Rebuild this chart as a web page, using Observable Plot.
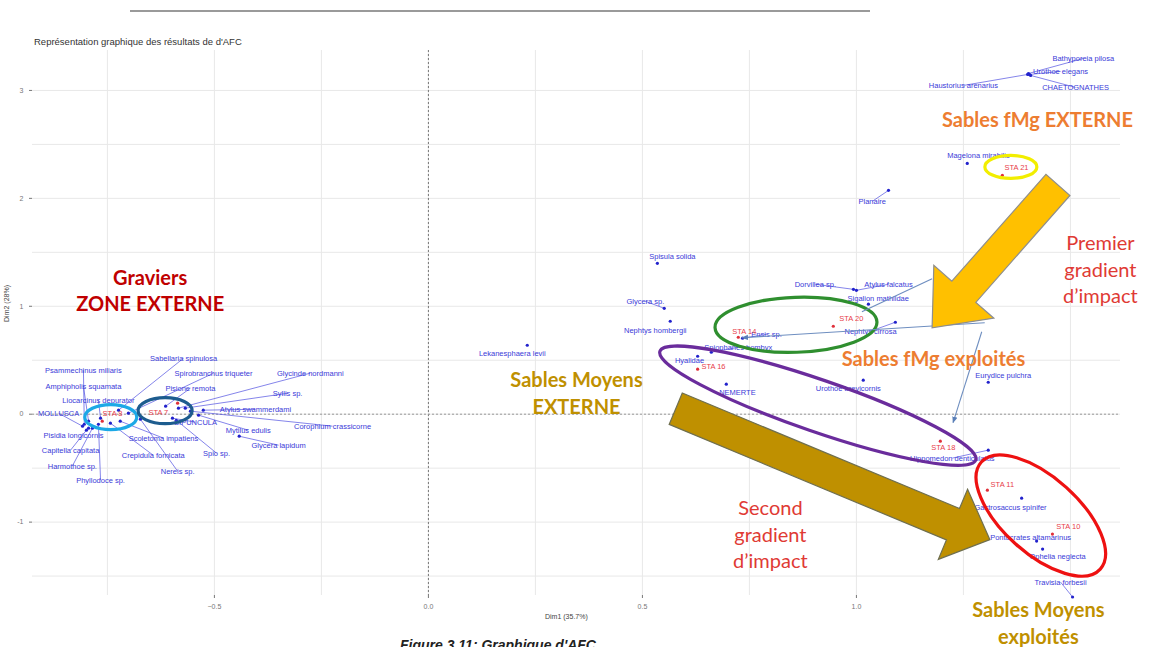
<!DOCTYPE html>
<html><head><meta charset="utf-8">
<script src="https://cdn.jsdelivr.net/npm/d3@7"></script>
<script src="https://cdn.jsdelivr.net/npm/@observablehq/plot@0.6"></script>
<style>
body{margin:0;background:#fff;}
#wrap{position:relative;width:1149px;height:647px;overflow:hidden;font-family:"Liberation Sans",Arial,sans-serif;}
#topline{position:absolute;left:130px;top:10px;width:740px;height:0;border-top:2px solid #9a9a9a;}
#title{position:absolute;left:34px;top:36px;font-size:9.5px;color:#333;white-space:nowrap;}
#caption{position:absolute;left:400px;top:637px;font-size:14px;font-weight:bold;font-style:italic;color:#222;white-space:nowrap;}
#xlab{position:absolute;left:545px;top:613px;font-size:7px;color:#444;}
#ylab{position:absolute;left:-12px;top:300px;font-size:7px;color:#444;transform:rotate(-90deg);}
#chart svg{position:absolute;left:0;top:0;}
</style></head>
<body><div id="wrap"><div id="chart"></div>
<div id="topline"></div>
<div id="title">Représentation graphique des résultats de d'AFC</div>
<div id="xlab">Dim1 (35.7%)</div>
<div id="ylab">Dim2 (28%)</div>
<div id="caption">Figure 3.11: Graphique d'AFC</div>
</div>
<script>
// ---- species (column points) ----
const speciesNames = ["Psammechinus miliaris","Amphipholis squamata","Liocarcinus depurator","MOLLUSCA","Pisidia longicornis","Capitella capitata","Harmothoe sp.","Phyllodoce sp.","Sabellaria spinulosa","Spirobranchus triqueter","Glycinde nordmanni","Pisione remota","Syllis sp.","Atylus swammerdami","SIPUNCULA","Corophium crassicorne","Mytilus edulis","Glycera lapidum","Scoletoma impatiens","Spio sp.","Crepidula fornicata","Nereis sp.",
"Bathyporeia pilosa","Urothoe elegans","Haustorius arenarius","CHAETOGNATHES","Magelona mirabilis","Planaire","Spisula solida","Glycera sp.","Nephtys hombergii","Lekanesphaera levii","Dorvillea sp.","Atylus falcatus","Sigalion mathildae","Nephtys cirrosa","Ensis sp.","Spiophanes bombyx","Hyalidae","NEMERTE","Urothoe brevicornis","Eurydice pulchra","Hippomedon denticulatus","Gastrosaccus spinifer","Pontocrates altamarinus","Ophelia neglecta","Travisia forbesii"];
const speciesX = [-0.804,-0.794,-0.766,-0.808,-0.794,-0.799,-0.785,-0.771,-0.724,-0.701,-0.584,-0.614,-0.568,-0.526,-0.598,-0.556,-0.537,-0.442,-0.720,-0.589,-0.743,-0.673,
1.402,1.404,1.400,1.407,1.259,1.075,0.535,0.551,0.565,0.231,0.993,1.000,1.028,1.091,0.734,0.661,0.629,0.696,1.016,1.308,1.308,1.386,1.421,1.435,1.505];
const speciesY = [-0.093,-0.065,-0.037,-0.111,-0.130,-0.148,-0.130,-0.093,0.037,0.009,0.056,0.074,0.056,0.037,-0.037,0.028,-0.009,-0.204,-0.065,-0.056,-0.083,-0.046,
3.157,3.148,3.148,3.139,2.324,2.074,1.398,0.981,0.861,0.639,1.157,1.148,1.019,0.852,0.704,0.574,0.537,0.278,0.315,0.296,-0.333,-0.778,-1.176,-1.250,-1.694];
const speciesLabelX = [-0.806,-0.806,-0.771,-0.864,-0.829,-0.836,-0.832,-0.766,-0.572,-0.502,-0.276,-0.556,-0.329,-0.404,-0.544,-0.224,-0.421,-0.350,-0.619,-0.495,-0.643,-0.586,
1.530,1.477,1.250,1.512,1.285,1.037,0.570,0.507,0.530,0.196,0.904,1.075,1.051,1.033,0.790,0.724,0.610,0.722,0.981,1.343,1.224,1.360,1.407,1.470,1.477];
const speciesLabelY = [0.407,0.259,0.130,0.009,-0.194,-0.333,-0.481,-0.611,0.519,0.380,0.380,0.241,0.194,0.046,-0.074,-0.111,-0.148,-0.287,-0.222,-0.361,-0.380,-0.528,
3.296,3.176,3.046,3.028,2.398,1.972,1.463,1.046,0.778,0.565,1.204,1.204,1.074,0.769,0.740,0.620,0.500,0.204,0.241,0.361,-0.407,-0.861,-1.139,-1.324,-1.556];

// ---- stations (row points) ----
const stationNames = ["STA 21","STA 20","STA 14","STA 16","STA 18","STA 11","STA 10","STA 8","STA 7"];
const stationX = [1.341,0.946,0.724,0.629,1.196,1.306,1.458,-0.762,-0.586];
const stationY = [2.213,0.815,0.713,0.417,-0.250,-0.704,-1.111,-0.065,0.102];
const stationLabelX = [1.374,0.988,0.738,0.666,1.203,1.341,1.495,-0.738,-0.631];
const stationLabelY = [2.287,0.889,0.765,0.444,-0.306,-0.648,-1.046,0.009,0.019];

// ---- axes ----
const xTicks = [-0.5, 0, 0.5, 1];
const yTicks = [-1, 0, 1, 2, 3];
const xGrid = [-0.75,-0.5,-0.25,0,0.25,0.5,0.75,1,1.25,1.5];
const yGrid = [-1.5,-1,-0.5,0,0.5,1,1.5,2,2.5,3];

// ---- annotation overlays ----
const ellipseX = [-0.741,-0.614,1.362,0.860,0.911,1.432];
const ellipseY = [-0.032,0.028,2.287,0.824,0.074,-0.944];
const ellipseRx = [26,27,26,81,167,80];
const ellipseRy = [12.5,13,11.5,27.5,26,38];
const ellipseAngle = [0,0,0,-2,19,42];
const ellipseColor = ["#1ca9e6","#1d5c8e","#f2ee00","#2f8f2f","#6a2c9c","#ee1111"];

const arrowX1 = [1.472, 0.579];
const arrowY1 = [2.120, 0.046];
const arrowX2 = [1.178, 1.313];
const arrowY2 = [0.796, -1.167];
const arrowFill = ["#ffc000","#bf9000"];
const arrowStroke = ["#8e8e8e","#6f6f4f"];

const lineX1 = [1.178, 1.301, 1.294];
const lineY1 = [1.250, 0.843, 0.759];
const lineX2 = [1.014, 0.734, 1.227];
const lineY2 = [0.944, 0.704, -0.083];
const lineHead = [false, true, true];

const annText = ["Graviers\nZONE EXTERNE","Sables fMg EXTERNE","Premier\ngradient\nd’impact","Sables fMg exploités","Sables Moyens\nEXTERNE","Second\ngradient\nd’impact","Sables Moyens\nexploités"];
const annX = [-0.650,1.423,1.570,1.180,0.346,0.799,1.425];
const annY = [1.157,2.741,1.352,0.528,0.204,-1.102,-1.926];
const annColor = ["#c00000","#ed7d31","#e03a34","#ed7d31","#bf9000","#e03a34","#bf9000"];
const annBold = [true,true,false,true,true,false,true];

const species = speciesNames.map((name,i)=>({name,x:speciesX[i],y:speciesY[i],lx:speciesLabelX[i],ly:speciesLabelY[i]}));
const stations = stationNames.map((name,i)=>({name,x:stationX[i],y:stationY[i],lx:stationLabelX[i],ly:stationLabelY[i]}));
const far = d => Math.hypot((d.lx-d.x)*428,(d.ly-d.y)*108) > 18;

const annMarks = annText.map((t,i)=>Plot.text([{t,x:annX[i],y:annY[i]}],{
  x:"x",y:"y",text:"t",fill:annColor[i],fontSize:20,fontWeight:annBold[i]?"bold":"normal",
  lineHeight:1.32,fontFamily:"Lato, 'Open Sans', sans-serif"}));

const plot = Plot.plot({
  width:1149, height:647, marginLeft:32, marginRight:29, marginTop:50, marginBottom:52,
  x:{domain:[-0.925,1.617]}, y:{domain:[-1.68,3.37]},
  style:{fontFamily:"'Liberation Sans', Arial, sans-serif", background:"transparent", overflow:"visible"},
  marks:[
    Plot.gridX(xGrid,{stroke:"#e8e8e8",strokeOpacity:1}),
    Plot.gridY(yGrid,{stroke:"#e8e8e8",strokeOpacity:1}),
    Plot.ruleX([0],{stroke:"#777",strokeDasharray:"2,2"}),
    Plot.ruleY([0],{stroke:"#999",strokeDasharray:"2,2"}),
    Plot.axisX(xTicks,{tickFormat:d3.format(".1f"),fontSize:7,color:"#777",tickSize:3,label:null}),
    Plot.axisY(yTicks,{tickFormat:d=>String(d),fontSize:7,color:"#777",tickSize:3,label:null}),
    Plot.link(species.filter(far),{x1:"x",y1:"y",x2:"lx",y2:"ly",stroke:"#4a4ae0",strokeWidth:0.8,strokeOpacity:0.85}),
    Plot.dot(species,{x:"x",y:"y",r:1.6,fill:"#2222cc"}),
    Plot.dot(stations,{x:"x",y:"y",r:1.6,fill:"#e0303a"}),
    Plot.text(species,{x:"lx",y:"ly",text:"name",fill:"#3a3ad8",fontSize:7.5}),
    Plot.text(stations,{x:"lx",y:"ly",text:"name",fill:"#e8404a",fontSize:7.5}),
    ...annMarks
  ]
});
document.getElementById("chart").appendChild(plot);

// overlays drawn through the plot's scales
const sx = plot.scale("x"), sy = plot.scale("y");
const svg = d3.select(plot);
const firstAnn = plot.children[plot.children.length - annMarks.length];
const overlay = document.createElementNS("http://www.w3.org/2000/svg","g");
plot.insertBefore(overlay, firstAnn);
const g = d3.select(overlay);
const defs = svg.insert("defs",":first-child");
defs.append("marker").attr("id","ah").attr("viewBox","0 0 10 10").attr("refX",9).attr("refY",5)
  .attr("markerWidth",6).attr("markerHeight",6).attr("orient","auto")
  .append("path").attr("d","M0,1 L10,5 L0,9 z").attr("fill","#5a7fb8");

ellipseX.forEach((x,i)=>{
  const cx = sx.apply(x), cy = sy.apply(ellipseY[i]);
  g.append("ellipse").attr("cx",cx).attr("cy",cy).attr("rx",ellipseRx[i]).attr("ry",ellipseRy[i])
   .attr("transform",`rotate(${ellipseAngle[i]} ${cx} ${cy})`)
   .attr("fill","none").attr("stroke",ellipseColor[i]).attr("stroke-width",3.2);
});
lineX1.forEach((x,i)=>{
  g.append("line").attr("x1",sx.apply(x)).attr("y1",sy.apply(lineY1[i]))
   .attr("x2",sx.apply(lineX2[i])).attr("y2",sy.apply(lineY2[i]))
   .attr("stroke","#6e8ec0").attr("stroke-width",1.1)
   .attr("marker-end",lineHead[i]?"url(#ah)":null);
});
const shaft=[16,17], head=[48,40], headW=[40,38];
arrowX1.forEach((x,i)=>{
  const T=[sx.apply(x),sy.apply(arrowY1[i])], P=[sx.apply(arrowX2[i]),sy.apply(arrowY2[i])];
  const L=Math.hypot(P[0]-T[0],P[1]-T[1]); const u=[(P[0]-T[0])/L,(P[1]-T[1])/L]; const n=[-u[1],u[0]];
  const B=[P[0]-u[0]*head[i],P[1]-u[1]*head[i]];
  const pt=(b,k)=>[b[0]+n[0]*k,b[1]+n[1]*k];
  const pts=[pt(T,shaft[i]),pt(B,shaft[i]),pt(B,headW[i]),P,pt(B,-headW[i]),pt(B,-shaft[i]),pt(T,-shaft[i])];
  g.append("polygon").attr("points",pts.map(p=>p.join(",")).join(" "))
   .attr("fill",arrowFill[i]).attr("stroke",arrowStroke[i]).attr("stroke-width",1.2);
});
</script>
</body></html>
